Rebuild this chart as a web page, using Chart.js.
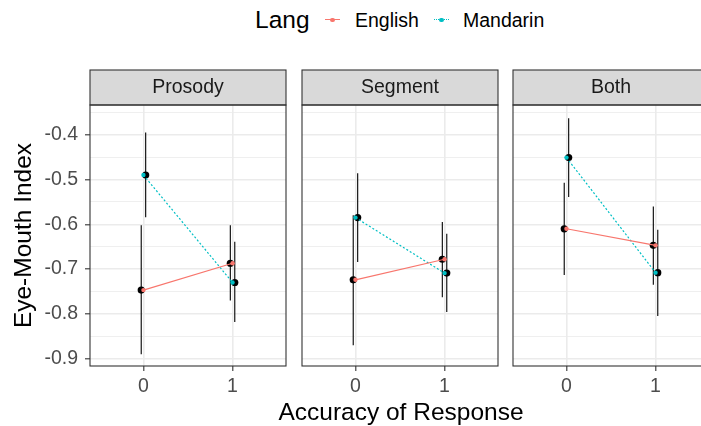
<!DOCTYPE html>
<html lang="en">
<head>
    <meta charset="UTF-8">
    <title>Eye-Mouth Index by Accuracy of Response</title>
    <script src="https://cdn.jsdelivr.net/npm/chart.js"></script>
    <style>
        html, body { margin: 0; padding: 0; background: #fff; overflow: hidden; }
        body { width: 701px; height: 426px; position: relative; font-family: "Liberation Sans", Arial, sans-serif; }
        canvas { position: absolute; top: 0; }
        .leg { position: absolute; white-space: nowrap; color: #000; }
        .leg-title { font-size: 24.5px; line-height: 24.5px; top: 8px; }
        .leg-label { font-size: 19.5px; line-height: 19.5px; top: 11px; }
        .key { position: absolute; top: 19px; width: 15px; height: 0; }
        .key .dot { position: absolute; left: 5.3px; top: -2.2px; width: 4.4px; height: 4.4px; border-radius: 50%; }
        .x-title { position: absolute; left: 201px; width: 400px; top: 400px; text-align: center;
                   font-size: 24.5px; line-height: 24.5px; color: #000; white-space: nowrap; }
    </style>
</head>
<body>
    <span class="leg leg-title" style="left:255px">Lang</span>
    <div class="key" style="left:325px; border-top: 1.2px solid #F8766D;"><div class="dot" style="background:#F8766D"></div></div>
    <span class="leg leg-label" style="left:355px">English</span>
    <div class="key" style="left:434px; border-top: 1.2px dotted #00BFC4;"><div class="dot" style="background:#00BFC4"></div></div>
    <span class="leg leg-label" style="left:463px">Mandarin</span>

    <canvas id="panel0" width="290" height="426" style="left:0px"></canvas>
    <canvas id="panel1" width="210" height="426" style="left:292px"></canvas>
    <canvas id="panel2" width="210" height="426" style="left:503px"></canvas>

    <div class="x-title">Accuracy of Response</div>

    <script>
        const facetNames = ['Prosody', 'Segment', 'Both'];
        const accuracyLevels = [0, 1];
        const xTickLabels = ['0', '1'];
        const yMajorTicks = [-0.9, -0.8, -0.7, -0.6, -0.5, -0.4];
        const yMinorTicks = [-0.85, -0.75, -0.65, -0.55, -0.45, -0.35];

        // one row per facet, values at accuracy 0 and 1
        const englishMean = [[-0.747, -0.687], [-0.724, -0.678], [-0.610, -0.647]];
        const englishLow  = [[-0.890, -0.770], [-0.870, -0.763], [-0.713, -0.735]];
        const englishHigh = [[-0.602, -0.602], [-0.580, -0.595], [-0.507, -0.560]];
        const mandarinMean = [[-0.490, -0.730], [-0.585, -0.709], [-0.451, -0.708]];
        const mandarinLow  = [[-0.584, -0.818], [-0.684, -0.796], [-0.539, -0.805]];
        const mandarinHigh = [[-0.395, -0.639], [-0.486, -0.621], [-0.363, -0.612]];

        const ENG_COLOR = '#F8766D';
        const MAN_COLOR = '#00BFC4';
        const DODGE = 0.025;
        const FONT = '"Liberation Sans", Arial, sans-serif';

        Chart.defaults.font.family = FONT;

        // facet strip on top + panel border
        const panelFrame = {
            id: 'panelFrame',
            afterDraw(chart, args, opts) {
                const ctx = chart.ctx;
                const a = chart.chartArea;
                ctx.save();
                ctx.fillStyle = '#D9D9D9';
                ctx.fillRect(a.left, 70, a.right - a.left, a.top - 70);
                ctx.strokeStyle = '#333333';
                ctx.lineWidth = 1.1;
                ctx.strokeRect(a.left, 70, a.right - a.left, a.top - 70);
                ctx.strokeRect(a.left, a.top, a.right - a.left, a.bottom - a.top);
                ctx.fillStyle = '#1A1A1A';
                ctx.font = '19.5px ' + FONT;
                ctx.textAlign = 'center';
                ctx.textBaseline = 'middle';
                ctx.fillText(opts.label, (a.left + a.right) / 2, (70 + a.top) / 2);
                ctx.restore();
            }
        };

        function meanLine(label, means, color, dash) {
            return {
                label: label,
                data: accuracyLevels.map((x, k) => ({ x: x, y: means[k] })),
                showLine: true,
                borderColor: color,
                backgroundColor: color,
                borderWidth: 1.2,
                borderDash: dash,
                pointRadius: 2.2,
                pointBorderWidth: 0
            };
        }

        function blackPoints(means, shift) {
            return {
                data: accuracyLevels.map((x, k) => ({ x: x + shift, y: means[k] })),
                showLine: false,
                backgroundColor: '#000',
                borderWidth: 0,
                pointRadius: 3.6
            };
        }

        function errorBar(x, lo, hi) {
            return {
                data: [{ x: x, y: lo }, { x: x, y: hi }],
                showLine: true,
                borderColor: '#000',
                borderWidth: 1.1,
                pointRadius: 0
            };
        }

        function facetDatasets(i) {
            const sets = [
                meanLine('English', englishMean[i], ENG_COLOR, []),
                meanLine('Mandarin', mandarinMean[i], MAN_COLOR, [2, 2]),
                blackPoints(englishMean[i], -DODGE),
                blackPoints(mandarinMean[i], DODGE)
            ];
            accuracyLevels.forEach((x, k) => {
                sets.push(errorBar(x - DODGE, englishLow[i][k], englishHigh[i][k]));
                sets.push(errorBar(x + DODGE, mandarinLow[i][k], mandarinHigh[i][k]));
            });
            return sets;
        }

        function isMajor(v) {
            return yMajorTicks.some(t => Math.abs(t - v) < 1e-9);
        }

        function makePanel(i) {
            const first = i === 0;
            return new Chart(document.getElementById('panel' + i), {
                type: 'scatter',
                data: { datasets: facetDatasets(i) },
                plugins: [panelFrame],
                options: {
                    responsive: false,
                    animation: false,
                    events: [],
                    layout: { padding: { top: 105, left: first ? 0 : 10, right: 2, bottom: 0 } },
                    plugins: {
                        legend: { display: false },
                        tooltip: { enabled: false },
                        panelFrame: { label: facetNames[i] }
                    },
                    scales: {
                        x: {
                            type: 'linear',
                            min: -0.6,
                            max: 1.6,
                            afterBuildTicks: s => { s.ticks = accuracyLevels.map(v => ({ value: v })); },
                            afterFit: s => { s.height = 60; },
                            ticks: {
                                callback: v => xTickLabels[accuracyLevels.indexOf(v)],
                                color: '#4D4D4D',
                                font: { size: 19.5 },
                                padding: 4,
                                maxRotation: 0,
                                autoSkip: false
                            },
                            grid: { color: '#EBEBEB', lineWidth: 1.6, tickColor: '#333333', tickLength: 5, tickWidth: 1.1 },
                            border: { display: false }
                        },
                        y: {
                            type: 'linear',
                            min: -0.9165,
                            max: -0.3335,
                            afterBuildTicks: s => {
                                s.ticks = yMinorTicks.concat(yMajorTicks).sort((a, b) => a - b).map(v => ({ value: v }));
                            },
                            afterFit: s => { s.width = first ? 90 : 0; },
                            ticks: {
                                display: first,
                                callback: v => isMajor(v) ? v.toFixed(1) : '',
                                color: '#4D4D4D',
                                font: { size: 19.5 },
                                padding: 7,
                                autoSkip: false
                            },
                            grid: {
                                color: '#EBEBEB',
                                lineWidth: c => (c.tick && isMajor(c.tick.value)) ? 1.6 : 0.8,
                                tickColor: c => (c.tick && isMajor(c.tick.value)) ? '#333333' : 'rgba(0,0,0,0)',
                                tickLength: 5,
                                tickWidth: 1.1,
                                drawTicks: first
                            },
                            border: { display: false },
                            title: {
                                display: first,
                                text: 'Eye-Mouth Index',
                                color: '#000',
                                font: { size: 24.5 },
                                padding: { top: 10, bottom: 0 }
                            }
                        }
                    }
                }
            });
        }

        facetNames.forEach((name, i) => makePanel(i));
    </script>
</body>
</html>
